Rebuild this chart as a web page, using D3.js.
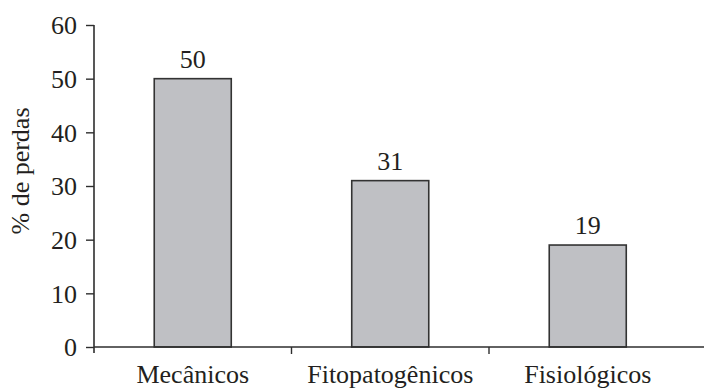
<!DOCTYPE html>
<html>
<head>
<meta charset="utf-8">
<script src="https://cdn.jsdelivr.net/npm/d3@7"></script>
<style>
  html, body { margin: 0; padding: 0; background: #fff; }
  svg { display: block; }
</style>
</head>
<body>
<svg id="chart" width="704" height="388"></svg>
<script>
// Loss categories and their share of total losses (%)
const categories = ["Mecânicos", "Fitopatogênicos", "Fisiológicos"];
const values = [50, 31, 19];
const yTicks = [0, 10, 20, 30, 40, 50, 60];
const yTitle = "% de perdas";

const FONT = '"Liberation Serif", "Times New Roman", Tinos, Times';
const TEXT_COLOR = "#231f20";
const ink = "#2e2e2e";

const svg = d3.select("#chart");
const plotLeft = 94, plotRight = 686.5, plotTop = 25, plotBottom = 347;

const x = d3.scaleBand().domain(categories).range([plotLeft, plotRight]).paddingInner(0.61).paddingOuter(0.305);
const y = d3.scaleLinear().domain([0, 60]).range([plotBottom, plotTop]);

// Bars
svg.append("g").selectAll("rect")
  .data(categories)
  .join("rect")
  .attr("x", d => x(d))
  .attr("y", (d, i) => y(values[i]))
  .attr("width", x.bandwidth())
  .attr("height", (d, i) => y(0) - y(values[i]))
  .attr("fill", "#bfc0c4")
  .attr("stroke", "#333")
  .attr("stroke-width", 1.6);

// Value labels above bars
svg.append("g").selectAll("text")
  .data(categories)
  .join("text")
  .attr("x", d => x(d) + x.bandwidth() / 2)
  .attr("y", (d, i) => y(values[i]) - 11)
  .attr("text-anchor", "middle")
  .text((d, i) => values[i]);

// Y axis
const yAxis = d3.axisLeft(y).tickValues(yTicks).tickSize(8).tickPadding(9).tickSizeOuter(0);
const gy = svg.append("g").attr("transform", `translate(${plotLeft},0)`).call(yAxis);
gy.select(".domain").remove();
gy.selectAll(".tick line").attr("stroke", ink).attr("stroke-width", 1.4);
gy.selectAll(".tick text").attr("dy", "0.34em");
gy.append("line").attr("x1", 0).attr("x2", 0).attr("y1", y(60)).attr("y2", plotBottom + 6)
  .attr("stroke", ink).attr("stroke-width", 1.6);

// X axis: baseline and separators between categories
const gx = svg.append("g");
gx.append("line").attr("x1", plotLeft).attr("x2", 704).attr("y1", plotBottom).attr("y2", plotBottom)
  .attr("stroke", ink).attr("stroke-width", 1.6);
const step = x.step();
gx.selectAll("line.sep")
  .data(categories.slice(1))
  .join("line")
  .attr("class", "sep")
  .attr("x1", d => x(d) - step * x.paddingInner() / 2)
  .attr("x2", d => x(d) - step * x.paddingInner() / 2)
  .attr("y1", plotBottom).attr("y2", plotBottom + 7)
  .attr("stroke", ink).attr("stroke-width", 1.4);
gx.selectAll("text")
  .data(categories)
  .join("text")
  .attr("x", d => x(d) + x.bandwidth() / 2)
  .attr("y", 383)
  .attr("text-anchor", "middle")
  .text(d => d);

// Y axis title
svg.append("text")
  .attr("transform", "translate(29,171) rotate(-90)")
  .attr("text-anchor", "middle")
  .text(yTitle);

// Shared typography
svg.selectAll("text")
  .style("font-family", FONT)
  .style("font-size", "26px")
  .style("fill", TEXT_COLOR);
</script>
</body>
</html>
